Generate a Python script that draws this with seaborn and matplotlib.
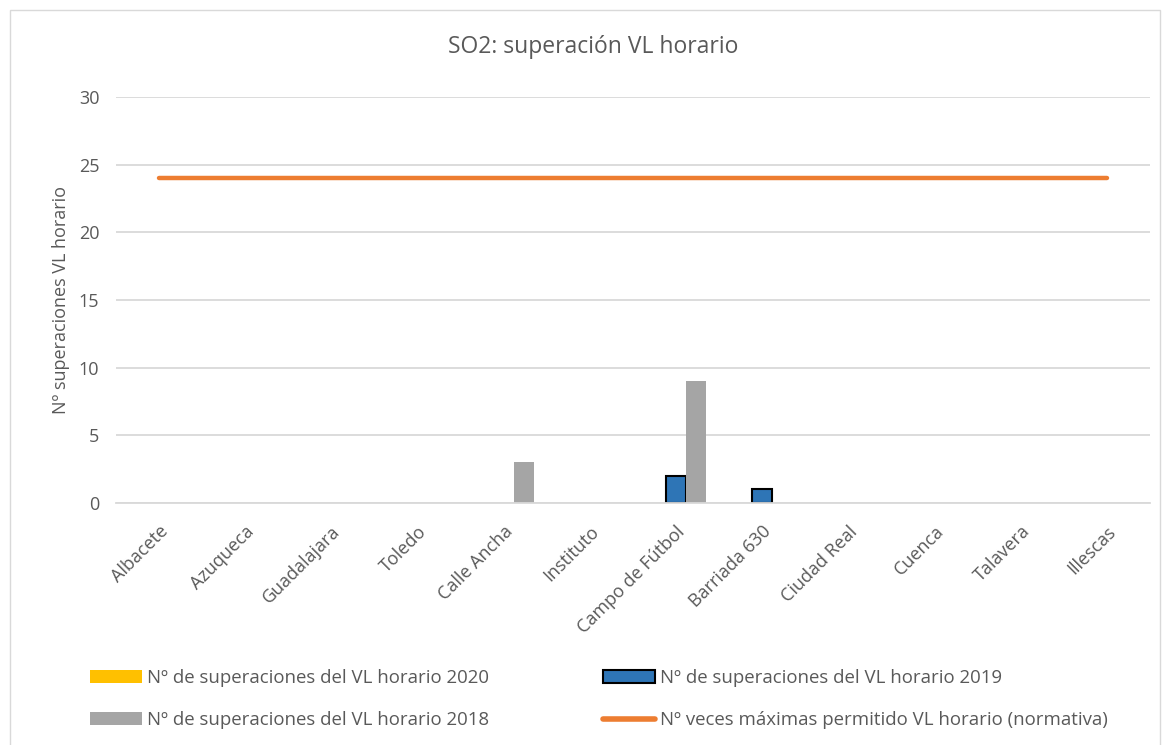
# Recreate the SO2 hourly limit exceedance chart

import numpy as np
import pandas as pd
import matplotlib
matplotlib.use('Agg')
import matplotlib.pyplot as plt
import seaborn as sns
from matplotlib.patches import Patch, Rectangle
from matplotlib.lines import Line2D

sns.set_theme(style='white')
plt.rcParams['font.family'] = ['Open Sans', 'DejaVu Sans']

# data
estaciones = ['Albacete', 'Azuqueca', 'Guadalajara', 'Toledo', 'Calle Ancha', 'Instituto',
              'Campo de Fútbol', 'Barriada 630', 'Ciudad Real', 'Cuenca', 'Talavera', 'Illescas']
superaciones2020 = [0, 0, 0, 0, 0, 0, 0, 0, 0, 0, 0, 0]
superaciones2019 = [0, 0, 0, 0, 0, 0, 2, 1, 0, 0, 0, 0]
superaciones2018 = [0, 0, 0, 0, 3, 0, 9, 0, 0, 0, 0, 0]
limiteNormativa = [24, 24, 24, 24, 24, 24, 24, 24, 24, 24, 24, 24]

lbl2020 = 'Nº de superaciones del VL horario 2020'
lbl2019 = 'Nº de superaciones del VL horario 2019'
lbl2018 = 'Nº de superaciones del VL horario 2018'
lblNorma = 'Nº veces máximas permitido VL horario (normativa)'

df = pd.DataFrame({
    'estacion': estaciones * 3,
    'valor': superaciones2020 + superaciones2019 + superaciones2018,
    'serie': [lbl2020] * 12 + [lbl2019] * 12 + [lbl2018] * 12,
})

colores = {lbl2020: '#FFC000', lbl2019: '#2E75B6', lbl2018: '#A5A5A5'}
gridColor = '#D9D9D9'
textColor = '#595959'

fig = plt.figure(figsize=(11.68, 7.45), dpi=100)
ax = fig.add_axes([116 / 1168, 1 - 503 / 745, (1150 - 116) / 1168, (503 - 97) / 745])

sns.barplot(data=df, x='estacion', y='valor', hue='serie', hue_order=[lbl2020, lbl2019, lbl2018],
            palette=colores, width=0.7, saturation=1, ax=ax, legend=False)

# black outline only on 2019 bars, hide zero-height bars
for i, bar in enumerate(ax.patches):
    if bar.get_height() == 0:
        bar.set_linewidth(0)
        bar.set_visible(False)
    elif 12 <= i < 24:
        bar.set_edgecolor('black')
        bar.set_linewidth(1.5)
    else:
        bar.set_linewidth(0)

sns.lineplot(x=np.arange(len(estaciones)), y=limiteNormativa, color='#ED7D31', linewidth=3.2,
             sort=False, ax=ax)

ax.set_ylim(0, 30)
ax.set_yticks([0, 5, 10, 15, 20, 25, 30])
ax.set_xlim(-0.5, len(estaciones) - 0.5)
ax.grid(axis='y', color=gridColor, linewidth=1.3)
ax.set_axisbelow(True)
for s in ['top', 'right', 'left']:
    ax.spines[s].set_visible(False)
ax.spines['bottom'].set_color(gridColor)
ax.spines['bottom'].set_linewidth(1.3)
ax.tick_params(axis='both', length=0, labelsize=13, colors=textColor)
ax.tick_params(axis='y', pad=12)
ax.set_xticks(range(len(estaciones)))
ax.set_xticklabels(estaciones, rotation=45, ha='right', rotation_mode='anchor')
ax.tick_params(axis='x', pad=14)
ax.set_xlabel('')
ax.set_ylabel('Nº superaciones VL horario', fontsize=13, color=textColor, labelpad=6)

fig.text(593 / 1168, 1 - 47 / 745, 'SO2: superación VL horario', ha='center', va='center',
         fontsize=16.5, color=textColor)

handles = [Patch(facecolor='#FFC000', edgecolor='none'),
           Patch(facecolor='#A5A5A5', edgecolor='none'),
           Patch(facecolor='#2E75B6', edgecolor='black', linewidth=1.5),
           Line2D([0], [0], color='#ED7D31', linewidth=4, solid_capstyle='round')]
labels = [lbl2020, lbl2018, lbl2019, lblNorma]
fig.legend(handles, labels, ncol=2, loc='center left', bbox_to_anchor=(73 / 1168, 1 - 699 / 745),
           frameon=False, fontsize=13.4, handlelength=2.8, handletextpad=0.27, labelspacing=1.3,
           columnspacing=6.1, labelcolor=textColor)

# outer chart border
fig.add_artist(Rectangle((10 / 1168, -0.05), 1150 / 1168, 1 - 10 / 745 + 0.05, transform=fig.transFigure,
                         fill=False, edgecolor=gridColor, linewidth=1))

fig.savefig('out.png', dpi=100)
